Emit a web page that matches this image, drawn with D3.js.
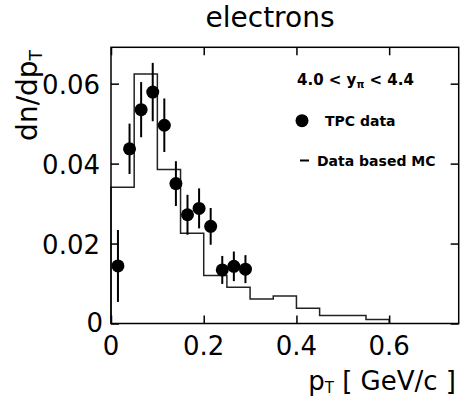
<!DOCTYPE html>
<html><head><meta charset="utf-8">
<script src="https://cdn.jsdelivr.net/npm/d3@7"></script>
<style>body{margin:0;background:#fff}svg{display:block}</style>
</head><body>
<svg id="c" width="461" height="406"></svg>
<script>
// Data
const binEdges = [0,0.05,0.1,0.15,0.2,0.25,0.3,0.35,0.4,0.45,0.5,0.55,0.6];
const mcValues = [0.0341,0.0624,0.0385,0.0226,0.0120,0.0091,0.0061,0.0069,0.0038,0.0020,0.0020,0.0010];
const dataPt = [0.015,0.04,0.065,0.09,0.115,0.14,0.165,0.19,0.215,0.24,0.265,0.29];
const dataY = [0.0144,0.0437,0.0535,0.0579,0.0496,0.0350,0.0272,0.0288,0.0243,0.0134,0.0143,0.0136];
const dataErr = [0.0090,0.0063,0.0069,0.0073,0.0067,0.0056,0.0050,0.0050,0.0046,0.0035,0.0037,0.0035];
const xTicks = [0,0.2,0.4,0.6];
const xTickLabels = ["0","0.2","0.4","0.6"];
const yTicks = [0,0.02,0.04,0.06];
const yTickLabels = ["0","0.02","0.04","0.06"];

const svg = d3.select("#c");
const L=111, R=458.7, T=47.3, B=323.5;
const x = d3.scaleLinear().domain([0,0.75]).range([L,R]);
const y = d3.scaleLinear().domain([0,0.0691]).range([B,T]);
const font = "DejaVu Sans, sans-serif";

// histogram
const pathD = (()=>{
  let d = `M${x(0)},${y(0)}`;
  binEdges.slice(0,-1).forEach((e,i)=>{
    d += `L${x(e)},${y(mcValues[i])}L${x(binEdges[i+1])},${y(mcValues[i])}`;
  });
  d += `L${x(0.6)},${y(0)}`;
  return d;
})();
svg.append("path").attr("d",pathD).attr("fill","none").attr("stroke","#222").attr("stroke-width",1.5);

// error bars
svg.append("g").selectAll("line").data(dataPt).join("line")
  .attr("x1",(d)=>x(d)).attr("x2",(d)=>x(d))
  .attr("y1",(d,i)=>y(dataY[i]+dataErr[i])).attr("y2",(d,i)=>y(dataY[i]-dataErr[i]))
  .attr("stroke","#000").attr("stroke-width",2);
svg.append("g").selectAll("circle").data(dataPt).join("circle")
  .attr("cx",(d)=>x(d)).attr("cy",(d,i)=>y(dataY[i])).attr("r",6.5).attr("fill","#000");

// frame
svg.append("rect").attr("x",L).attr("y",T).attr("width",R-L).attr("height",B-T)
  .attr("fill","none").attr("stroke","#000").attr("stroke-width",1.5);

// axes ticks (inward)
const tl = 8;
const axB = d3.axisBottom(x).tickValues(xTicks).tickSize(-tl).tickFormat("");
const axT = d3.axisTop(x).tickValues(xTicks).tickSize(-tl).tickFormat("");
const axLft = d3.axisLeft(y).tickValues(yTicks).tickSize(-tl).tickFormat("");
const axRt = d3.axisRight(y).tickValues(yTicks).tickSize(-tl).tickFormat("");
[[axB,`translate(0,${B})`],[axT,`translate(0,${T})`],[axLft,`translate(${L},0)`],[axRt,`translate(${R},0)`]].forEach(([a,t])=>{
  const g = svg.append("g").attr("transform",t).call(a);
  g.select(".domain").remove();
  g.selectAll("line").attr("stroke","#000").attr("stroke-width",1.5);
});

// tick labels
svg.append("g").selectAll("text").data(xTicks).join("text")
  .attr("x",d=>x(d)).attr("y",355).attr("text-anchor","middle")
  .attr("font-family",font).attr("font-size",26).text((d,i)=>xTickLabels[i]);
svg.append("g").selectAll("text").data(yTicks).join("text")
  .attr("x",(d)=>d===0?103:100).attr("y",d=>d===0?y(d)+8:y(d)+10).attr("text-anchor","end")
  .attr("font-family",font).attr("font-size",26).text((d,i)=>yTickLabels[i]);

// title
svg.append("text").attr("x",270).attr("y",27).attr("text-anchor","middle")
  .attr("font-family",font).attr("font-size",28).text("electrons");

// y label
const yl = svg.append("text").attr("transform","translate(37,50) rotate(-90)").attr("text-anchor","end")
  .attr("font-family",font).attr("font-size",28);
yl.append("tspan").text("dn/dp");
yl.append("tspan").attr("font-size",17).attr("dy",5).text("T");

// x label
const xl = svg.append("text").attr("x",456).attr("y",390).attr("text-anchor","end")
  .attr("font-family",font).attr("font-size",26);
xl.append("tspan").text("p");
xl.append("tspan").attr("font-size",15).attr("dy",3).text("T");
xl.append("tspan").attr("dy",-3).text(" [ GeV/c ]");

// legend
const lf = "DejaVu Sans, sans-serif";
const t1 = svg.append("text").attr("x",297).attr("y",85).attr("font-family",lf).attr("font-weight","bold").attr("font-size",15);
t1.append("tspan").text("4.0 < y");
t1.append("tspan").attr("font-size",10).attr("dy",3).text("π");
t1.append("tspan").attr("dy",-3).text(" < 4.4");
svg.append("circle").attr("cx",302).attr("cy",120.7).attr("r",6.5).attr("fill","#000");
svg.append("text").attr("x",325).attr("y",126).attr("font-family",lf).attr("font-weight","bold").attr("font-size",14).text("TPC data");
svg.append("line").attr("x1",300).attr("x2",309).attr("y1",160.5).attr("y2",160.5).attr("stroke","#000").attr("stroke-width",2);
svg.append("text").attr("x",317).attr("y",166).attr("font-family",lf).attr("font-weight","bold").attr("font-size",14).text("Data based MC");
</script>
</body></html>
